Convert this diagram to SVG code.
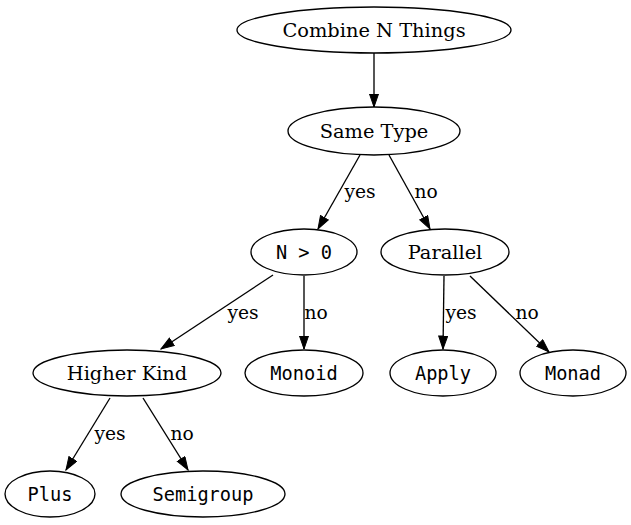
<svg xmlns="http://www.w3.org/2000/svg" width="631" height="525" viewBox="0 0 631 525">
<style>
.n ellipse{fill:none;stroke:#000;stroke-width:1.33}
.serif{font-family:"DejaVu Serif","Liberation Serif",serif;font-size:19.4px;text-anchor:middle;fill:#000}
.mono{font-family:"DejaVu Sans Mono","Liberation Mono",monospace;font-size:18.67px;text-anchor:middle;fill:#000}
.e path{stroke:#000;stroke-width:1.33;fill:none;marker-end:url(#ah)}
.lbl{font-family:"DejaVu Serif","Liberation Serif",serif;font-size:18.67px;text-anchor:middle;fill:#000}
</style>
<defs>
<marker id="ah" markerUnits="userSpaceOnUse" markerWidth="15" markerHeight="11" refX="13.5" refY="5" orient="auto">
<polygon points="0.5,0.5 13.5,5 0.5,9.5" fill="#000" stroke="#000" stroke-width="1"/>
</marker>
</defs>
<rect width="631" height="525" fill="#fff"/>
<g id="edges" class="e">
<path d="M374,53 L374,107"/>
<path d="M360,155 L318,229"/>
<path d="M389,155 L430,229"/>
<path d="M273,275 L161,349"/>
<path d="M304,276 L304,349"/>
<path d="M444,276 L443,349"/>
<path d="M470,276 L549,352"/>
<path d="M110,398 L66,470"/>
<path d="M143,398 L188,470"/>
<text class="lbl" x="360" y="198">yes</text>
<text class="lbl" x="426" y="198">no</text>
<text class="lbl" x="243" y="319">yes</text>
<text class="lbl" x="316" y="319">no</text>
<text class="lbl" x="461" y="319">yes</text>
<text class="lbl" x="527" y="319">no</text>
<text class="lbl" x="110" y="440">yes</text>
<text class="lbl" x="182" y="440">no</text>
</g>
<g id="combine" class="n"><ellipse cx="374" cy="30" rx="137" ry="23"/><text class="serif" x="374" y="36.7">Combine N Things</text></g>
<g id="sametype" class="n"><ellipse cx="374" cy="131" rx="86" ry="24"/><text class="serif" x="374" y="137.7">Same Type</text></g>
<g id="ngt0" class="n"><ellipse cx="304" cy="252" rx="53" ry="23"/><text class="mono" x="304" y="258.5">N &gt; 0</text></g>
<g id="parallel" class="n"><ellipse cx="445" cy="252" rx="64" ry="23"/><text class="serif" x="445" y="258.7">Parallel</text></g>
<g id="higherkind" class="n"><ellipse cx="127" cy="373" rx="94" ry="23"/><text class="serif" x="127" y="379.7">Higher Kind</text></g>
<g id="monoid" class="n"><ellipse cx="304" cy="373" rx="59" ry="23"/><text class="mono" x="304" y="379.5">Monoid</text></g>
<g id="apply" class="n"><ellipse cx="443" cy="373" rx="53" ry="23"/><text class="mono" x="443" y="379.5">Apply</text></g>
<g id="monad" class="n"><ellipse cx="573" cy="373" rx="53" ry="23"/><text class="mono" x="573" y="379.5">Monad</text></g>
<g id="plus" class="n"><ellipse cx="50" cy="494" rx="45" ry="23"/><text class="mono" x="50" y="500.5">Plus</text></g>
<g id="semigroup" class="n"><ellipse cx="203" cy="494" rx="82" ry="23"/><text class="mono" x="203" y="500.5">Semigroup</text></g>
</svg>
